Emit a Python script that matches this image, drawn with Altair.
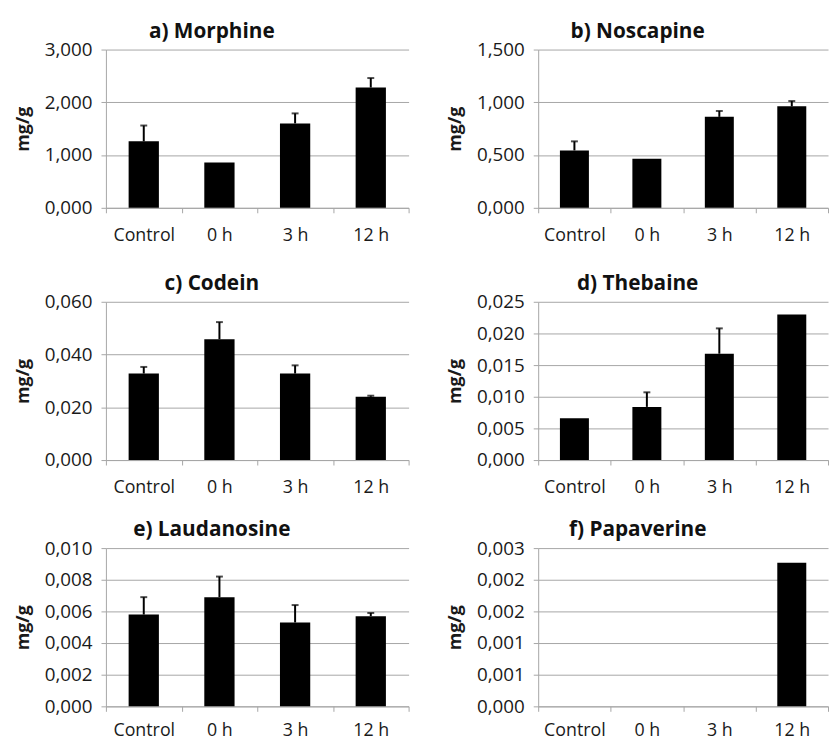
import altair as alt
import pandas as pd

categories = ["Control", "0 h", "3 h", "12 h"]

titles = ["a) Morphine", "b) Noscapine", "c) Codein", "d) Thebaine", "e) Laudanosine", "f) Papaverine"]

morphine = [1.26, 0.86, 1.60, 2.28]
morphine_err = [0.30, None, 0.19, 0.18]
noscapine = [0.544, 0.466, 0.862, 0.962]
noscapine_err = [0.086, None, 0.056, 0.050]
codein = [0.0328, 0.0458, 0.0328, 0.0240]
codein_err = [0.0025, 0.0065, 0.0031, 0.0004]
thebaine = [0.0066, 0.0084, 0.0168, 0.0230]
thebaine_err = [None, 0.0023, 0.0040, None]
laudanosine = [0.0058, 0.0069, 0.0053, 0.0057]
laudanosine_err = [0.0011, 0.0013, 0.0011, 0.0002]
papaverine = [None, None, None, 0.00227]
papaverine_err = [None, None, None, None]

y_max = [3.0, 1.5, 0.06, 0.025, 0.010, 0.0025]
y_step = [1.0, 0.5, 0.02, 0.005, 0.002, 0.0005]

series = [morphine, noscapine, codein, thebaine, laudanosine, papaverine]
errors = [morphine_err, noscapine_err, codein_err, thebaine_err, laudanosine_err, papaverine_err]

GRID = "#a6a6a6"
FONT = "Open Sans"


def panel(i, width, label_pad):
    vals = series[i]
    errs = errors[i]
    bar_df = pd.DataFrame({"cat": [c for c, v in zip(categories, vals) if v is not None],
                           "val": [v for v in vals if v is not None]})
    err_rows = [(c, v, v + e) for c, v, e in zip(categories, vals, errs) if v is not None and e is not None]
    err_df = pd.DataFrame(err_rows, columns=["cat", "val", "hi"])

    n_ticks = int(round(y_max[i] / y_step[i]))
    ticks = [round(k * y_step[i], 6) for k in range(n_ticks + 1)]

    x_axis = alt.Axis(title=None, labelAngle=0, tickBand="extent", domainColor=GRID,
                      tickColor=GRID, tickSize=5, labelPadding=label_pad, labelFontSize=18,
                      labelFont=FONT, labelColor="#1a1a1a", grid=False)
    x_scale = alt.Scale(domain=categories, paddingInner=0, paddingOuter=0)
    y_scale = alt.Scale(domain=[0, y_max[i]], nice=False, zero=True)
    y_axis = alt.Axis(title="mg/g", titleFont=FONT, titleFontSize=18, titleFontWeight="bold",
                      titleColor="#1a1a1a", titlePadding=12,
                      values=ticks, grid=True, gridColor=GRID, domainColor=GRID,
                      tickColor=GRID, tickSize=5, labelPadding=9, labelFontSize=19,
                      labelFont=FONT, labelColor="#1a1a1a", labelOverlap=False,
                      labelExpr="replace(format(datum.value, '.3f'), '.', ',')")

    x = alt.X("cat:N", sort=categories, scale=x_scale, axis=x_axis)
    bars = alt.Chart(bar_df).mark_bar(color="black", width={"band": 0.4}).encode(
        x=x, y=alt.Y("val:Q", scale=y_scale, axis=y_axis))
    layers = [bars]
    if len(err_df):
        rule = alt.Chart(err_df).mark_rule(color="black", strokeWidth=2).encode(
            x=x, y=alt.Y("val:Q", scale=y_scale, axis=y_axis), y2="hi:Q")
        cap = alt.Chart(err_df).mark_tick(color="black", thickness=2, size=7).encode(
            x=x, y=alt.Y("hi:Q", scale=y_scale, axis=y_axis))
        layers += [rule, cap]
    return alt.layer(*layers).properties(
        width=width, height=160,
        title=alt.TitleParams(titles[i], font=FONT, fontSize=21, fontWeight="bold",
                              color="#111111", anchor="middle", frame="bounds", offset=-1))


label_pads = [14, 14, 10]
rows = []
for r in range(3):
    rows.append(alt.hconcat(panel(2 * r, 306, label_pads[r]),
                            panel(2 * r + 1, 293, label_pads[r]), spacing=37))

top = alt.vconcat(rows[0], rows[1], spacing=29)
chart = alt.vconcat(top, rows[2], spacing=23).properties(
    padding={"left": 6, "top": 9, "right": 0, "bottom": -3}
).configure_view(stroke=None)

chart.save("out.html", embed_options={"renderer": "svg", "actions": False})
